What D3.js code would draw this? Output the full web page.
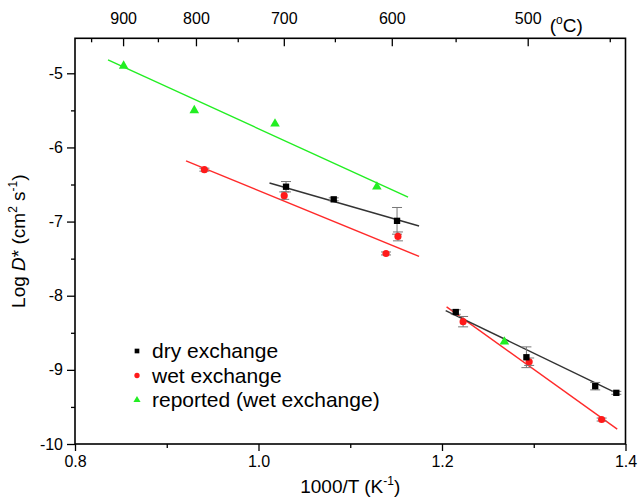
<html>
<head>
    <meta charset="utf-8">
    <title>Log D* vs 1000/T</title>
    <script src="https://d3js.org/d3.v7.min.js"></script>
    <style>
      body { margin: 0; background: #fff; }
      text { font-family: "Liberation Sans", Arial, sans-serif; }
    </style>
</head>
<body>
<script>

// dry exchange points (1000/T, log D*, error)
var dryX   = [1.030, 1.082, 1.151, 1.215, 1.292, 1.367, 1.390];
var dryY   = [-6.53, -6.70, -6.99, -8.22, -8.83, -9.22, -9.31];
var dryErr = [0.07, 0.02, 0.18, 0.03, 0.14, 0.05, 0.02];

// wet exchange points
var wetX   = [0.941, 1.028, 1.152, 1.139, 1.223, 1.295, 1.374];
var wetY   = [-6.30, -6.65, -7.20, -7.43, -8.35, -8.89, -9.67];
var wetErr = [0.02, 0.05, 0.06, 0.02, 0.07, 0.05, 0.02];

// reported (wet exchange)
var repX = [0.853, 0.930, 1.018, 1.129, 1.268];
var repY = [-4.90, -5.50, -5.68, -6.53, -8.62];

// fitted lines, [x start, x end] and [y start, y end]
var dryFitHiX = [1.012, 1.175], dryFitHiY = [-6.48, -7.06];
var dryFitLoX = [1.204, 1.393], dryFitLoY = [-8.20, -9.33];
var wetFitHiX = [0.921, 1.175], wetFitHiY = [-6.18, -7.47];
var wetFitLoX = [1.205, 1.391], wetFitLoY = [-8.15, -9.80];
var repFitX   = [0.836, 1.163], repFitY   = [-4.82, -6.67];

// ticks
var xTicks = [0.8, 1.0, 1.2, 1.4];
var xMinor = [0.9, 1.1, 1.3];
var yTicks = [-10, -9, -8, -7, -6, -5];
var yMinor = [-9.5, -8.5, -7.5, -6.5, -5.5];
var tempTicks = [900, 800, 700, 600, 500];
var tempMinor = [950, 850, 750, 650, 550, 450];

var legendNames = ["dry exchange", "wet exchange", "reported (wet exchange)"];

var width = 638, height = 499;
var pL = 75, pR = 625.5, pT = 38.3, pB = 444;

var svg = d3.select("body").append("svg")
            .attr("width", width)
            .attr("height", height);

var x = d3.scaleLinear().domain([0.8, 1.4]).range([pL, pR]);
var y = d3.scaleLinear().domain([-10, -4.528]).range([pB, pT]);
function inv(t) { return 1000 / (t + 273.15); }

// axes
var g = svg.append("g");
g.append("g").attr("transform", "translate(0," + pB + ")")
  .call(d3.axisBottom(x).tickValues(xTicks).tickFormat(d3.format(".1f")).tickSize(7).tickPadding(5))
  .call(a => a.select(".domain").remove());
g.append("g").attr("transform", "translate(0," + pB + ")")
  .call(d3.axisBottom(x).tickValues(xMinor).tickFormat("").tickSize(4))
  .call(a => a.select(".domain").remove());
g.append("g").attr("transform", "translate(" + pL + ",0)")
  .call(d3.axisLeft(y).tickValues(yTicks).tickFormat(d => String(d)).tickSize(8).tickPadding(4))
  .call(a => a.select(".domain").remove());
g.append("g").attr("transform", "translate(" + pL + ",0)")
  .call(d3.axisLeft(y).tickValues(yMinor).tickFormat("").tickSize(4))
  .call(a => a.select(".domain").remove());
// top axis in degrees C, ticks pointing in
g.append("g").attr("transform", "translate(0," + pT + ")")
  .call(d3.axisTop(x).tickValues(tempTicks.map(inv)).tickFormat((d, i) => tempTicks[i]).tickSizeInner(-8).tickSizeOuter(0).tickPadding(14))
  .call(a => a.select(".domain").remove());
g.append("g").attr("transform", "translate(0," + pT + ")")
  .call(d3.axisTop(x).tickValues(tempMinor.map(inv)).tickFormat("").tickSizeInner(-4).tickSizeOuter(0))
  .call(a => a.select(".domain").remove());

g.selectAll(".tick text").attr("font-size", 16).attr("fill", "#000")
  .style("font-family", "'Liberation Sans', Arial, sans-serif");
g.selectAll(".tick line").attr("stroke", "#000").attr("stroke-width", 1.3);

// frame
svg.append("rect").attr("x", pL).attr("y", pT)
   .attr("width", pR - pL).attr("height", pB - pT)
   .attr("fill", "none").attr("stroke", "#000").attr("stroke-width", 1.6);

// axis titles
var xt = svg.append("text").attr("x", (pL + pR) / 2).attr("y", 493)
            .attr("text-anchor", "middle").attr("font-size", 19);
xt.append("tspan").text("1000/T (K");
xt.append("tspan").text("-1").attr("font-size", 12).attr("dy", -8);
xt.append("tspan").text(")").attr("dy", 8);

var yt = svg.append("text").attr("transform", "translate(25," + ((pT + pB) / 2) + ") rotate(-90)")
            .attr("text-anchor", "middle").attr("font-size", 19);
yt.append("tspan").text("Log ");
yt.append("tspan").text("D").attr("font-style", "italic");
yt.append("tspan").text("* (cm");
yt.append("tspan").text("2").attr("font-size", 12).attr("dy", -8);
yt.append("tspan").text(" s").attr("dy", 8);
yt.append("tspan").text("-1").attr("font-size", 12).attr("dy", -8);
yt.append("tspan").text(")").attr("dy", 8);

var ct = svg.append("text").attr("x", x(inv(500)) + 22).attr("y", 32).attr("font-size", 19);
ct.append("tspan").text("(");
ct.append("tspan").text("o").attr("font-size", 12).attr("dy", -8);
ct.append("tspan").text("C)").attr("dy", 8);

// fit lines
function fitLine(xs, ys, color) {
  svg.append("line")
     .attr("x1", x(xs[0])).attr("y1", y(ys[0]))
     .attr("x2", x(xs[1])).attr("y2", y(ys[1]))
     .attr("stroke", color).attr("stroke-width", 1.4);
}
fitLine(repFitX, repFitY, "#22ee22");
fitLine(wetFitHiX, wetFitHiY, "#ff2a2a");
fitLine(wetFitLoX, wetFitLoY, "#ff2a2a");
fitLine(dryFitHiX, dryFitHiY, "#333333");
fitLine(dryFitLoX, dryFitLoY, "#333333");

// error bars
function errBars(xs, ys, es) {
  var eb = svg.append("g").attr("stroke", "#777").attr("stroke-width", 1);
  xs.forEach(function (d, i) {
    var cx = x(d), y0 = y(ys[i] - es[i]), y1 = y(ys[i] + es[i]);
    eb.append("line").attr("x1", cx).attr("x2", cx).attr("y1", y0).attr("y2", y1);
    eb.append("line").attr("x1", cx - 5).attr("x2", cx + 5).attr("y1", y0).attr("y2", y0);
    eb.append("line").attr("x1", cx - 5).attr("x2", cx + 5).attr("y1", y1).attr("y2", y1);
  });
}
errBars(dryX, dryY, dryErr);
errBars(wetX, wetY, wetErr);

// markers
var sq = d3.symbol().type(d3.symbolSquare).size(40);
var ci = d3.symbol().type(d3.symbolCircle).size(40);
var tr = d3.symbol().type(d3.symbolTriangle).size(40);

svg.selectAll(".rep").data(repX).enter().append("path")
   .attr("d", tr).attr("fill", "#22ee22")
   .attr("transform", (d, i) => "translate(" + x(d) + "," + y(repY[i]) + ")");
svg.selectAll(".wet").data(wetX).enter().append("path")
   .attr("d", ci).attr("fill", "#ff1a1a")
   .attr("transform", (d, i) => "translate(" + x(d) + "," + y(wetY[i]) + ")");
svg.selectAll(".dry").data(dryX).enter().append("path")
   .attr("d", sq).attr("fill", "#000")
   .attr("transform", (d, i) => "translate(" + x(d) + "," + y(dryY[i]) + ")");

// legend
var legCol = ["#000", "#ff1a1a", "#22ee22"];
var leg = svg.append("g");
legendNames.forEach(function (n, i) {
  var ly = 351 + i * 24.5;
  leg.append("path").attr("d", d3.symbol().type([d3.symbolSquare, d3.symbolCircle, d3.symbolTriangle][i]).size(22))
     .attr("fill", legCol[i]).attr("transform", "translate(137," + ly + ")");
  leg.append("text").attr("x", 152).attr("y", ly + 7).attr("font-size", 21).text(n);
});

</script>
</body>
</html>
